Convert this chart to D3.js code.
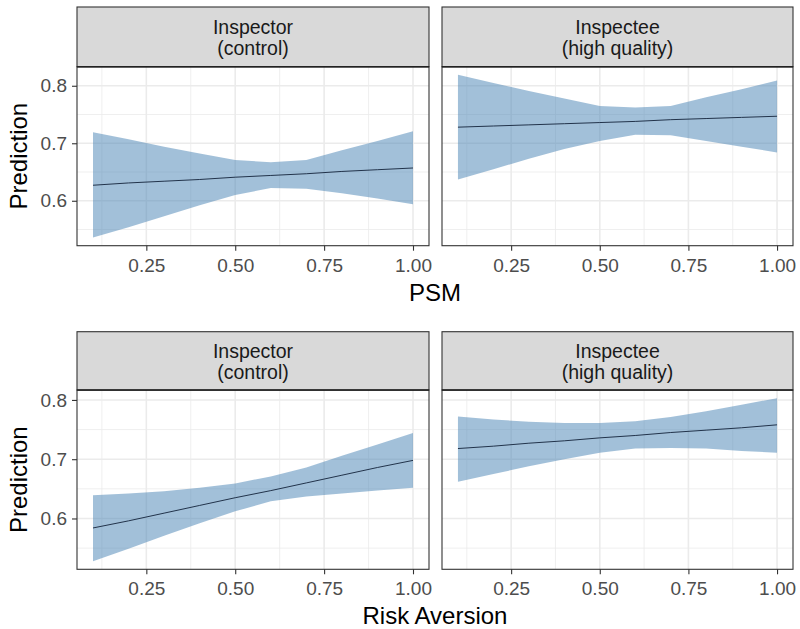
<!DOCTYPE html>
<html>
<head>
<meta charset="utf-8">
<script src="https://cdn.jsdelivr.net/npm/d3@7"></script>
<style>
  html, body { margin: 0; padding: 0; background: #fff; }
  svg { display: block; font-family: "Liberation Sans", Arial, Helvetica, sans-serif; }
</style>
</head>
<body>
<svg id="chart" width="800" height="629"></svg>
<script>
// ---------- DATA ----------
const xValues = [0.1, 0.2, 0.3, 0.4, 0.5, 0.6, 0.7, 0.8, 0.9, 1.0];
const facetLabels = [["Inspector", "(control)"], ["Inspectee", "(high quality)"]];
const rowTitles = ["PSM", "Risk Aversion"];
const yTitle = "Prediction";
const xTicks = [0.25, 0.50, 0.75, 1.00];
const yTicks = [0.6, 0.7, 0.8];

// PSM, Inspector (control)
const psmInspectorFit  = [0.627, 0.631, 0.634, 0.637, 0.641, 0.644, 0.647, 0.651, 0.654, 0.657];
const psmInspectorLow  = [0.536, 0.554, 0.573, 0.592, 0.610, 0.622, 0.621, 0.613, 0.604, 0.594];
const psmInspectorHigh = [0.719, 0.707, 0.694, 0.682, 0.671, 0.667, 0.671, 0.688, 0.704, 0.721];
// PSM, Inspectee (high quality)
const psmInspecteeFit  = [0.728, 0.730, 0.732, 0.734, 0.736, 0.738, 0.741, 0.743, 0.745, 0.747];
const psmInspecteeLow  = [0.637, 0.655, 0.673, 0.690, 0.704, 0.715, 0.714, 0.704, 0.694, 0.684];
const psmInspecteeHigh = [0.819, 0.805, 0.791, 0.778, 0.765, 0.762, 0.765, 0.780, 0.794, 0.809];
// Risk Aversion, Inspector (control)
const raInspectorFit  = [0.584, 0.596, 0.609, 0.622, 0.635, 0.647, 0.660, 0.673, 0.686, 0.698];
const raInspectorLow  = [0.528, 0.549, 0.571, 0.592, 0.612, 0.629, 0.637, 0.642, 0.647, 0.652];
const raInspectorHigh = [0.639, 0.642, 0.646, 0.652, 0.659, 0.671, 0.686, 0.706, 0.725, 0.744];
// Risk Aversion, Inspectee (high quality)
const raInspecteeFit  = [0.718, 0.722, 0.727, 0.731, 0.736, 0.740, 0.745, 0.749, 0.753, 0.758];
const raInspecteeLow  = [0.662, 0.675, 0.688, 0.700, 0.711, 0.718, 0.719, 0.718, 0.714, 0.711];
const raInspecteeHigh = [0.772, 0.767, 0.763, 0.761, 0.761, 0.764, 0.771, 0.781, 0.792, 0.803];

const rowsData = [
  [ {fit: psmInspectorFit, low: psmInspectorLow, high: psmInspectorHigh},
    {fit: psmInspecteeFit, low: psmInspecteeLow, high: psmInspecteeHigh} ],
  [ {fit: raInspectorFit, low: raInspectorLow, high: raInspectorHigh},
    {fit: raInspecteeFit, low: raInspecteeLow, high: raInspecteeHigh} ]
];

// ---------- LAYOUT ----------
const rowLayout = [
  {stripTop: 7, panelTop: 66.7, panelBottom: 245.7},
  {stripTop: 331.7, panelTop: 390, panelBottom: 569.3}
];
const colLayout = [ {left: 77, right: 429}, {left: 442, right: 793} ];

const svg = d3.select("#chart");
const tickFont = 19, stripFont = 19.5, titleFont = 24;

function expand(lo, hi, m) { const r = hi - lo; return [lo - r * m, hi + r * m]; }

rowsData.forEach((row, ri) => {
  const L = rowLayout[ri];
  const allLow = d3.min(row, d => d3.min(d.low));
  const allHigh = d3.max(row, d => d3.max(d.high));
  const yDom = expand(allLow, allHigh, 0.05);
  const xDom = expand(d3.min(xValues), d3.max(xValues), 0.05);

  row.forEach((d, ci) => {
    const C = colLayout[ci];
    const x = d3.scaleLinear().domain(xDom).range([C.left, C.right]);
    const y = d3.scaleLinear().domain(yDom).range([L.panelBottom, L.panelTop]);
    const g = svg.append("g");

    g.append("rect").attr("x", C.left).attr("y", L.panelTop)
      .attr("width", C.right - C.left).attr("height", L.panelBottom - L.panelTop)
      .attr("fill", "#fff");

    const xMinor = xTicks.map(t => t - 0.125);
    const yMinor = yTicks.map(t => t - 0.05);
    g.selectAll(".xm").data(xMinor).join("line")
      .attr("x1", v => x(v)).attr("x2", v => x(v))
      .attr("y1", L.panelTop).attr("y2", L.panelBottom)
      .attr("stroke", "#ebebeb").attr("stroke-width", 0.8);
    g.selectAll(".ym").data(yMinor).join("line")
      .attr("y1", v => y(v)).attr("y2", v => y(v))
      .attr("x1", C.left).attr("x2", C.right)
      .attr("stroke", "#ebebeb").attr("stroke-width", 0.8);
    g.selectAll(".xM").data(xTicks).join("line")
      .attr("x1", v => x(v)).attr("x2", v => x(v))
      .attr("y1", L.panelTop).attr("y2", L.panelBottom)
      .attr("stroke", "#ebebeb").attr("stroke-width", 1.6);
    g.selectAll(".yM").data(yTicks).join("line")
      .attr("y1", v => y(v)).attr("y2", v => y(v))
      .attr("x1", C.left).attr("x2", C.right)
      .attr("stroke", "#ebebeb").attr("stroke-width", 1.6);

    const pts = xValues.map((xv, i) => ({x: xv, fit: d.fit[i], low: d.low[i], high: d.high[i]}));
    const area = d3.area().x(p => x(p.x)).y0(p => y(p.low)).y1(p => y(p.high));
    g.append("path").datum(pts).attr("d", area)
      .attr("fill", "#4682b4").attr("fill-opacity", 0.5);
    const line = d3.line().x(p => x(p.x)).y(p => y(p.fit));
    g.append("path").datum(pts).attr("d", line)
      .attr("fill", "none").attr("stroke", "#13233a").attr("stroke-width", 0.9);

    g.append("rect").attr("x", C.left).attr("y", L.panelTop)
      .attr("width", C.right - C.left).attr("height", L.panelBottom - L.panelTop)
      .attr("fill", "none").attr("stroke", "#333").attr("stroke-width", 1.1);

    g.append("rect").attr("x", C.left).attr("y", L.stripTop)
      .attr("width", C.right - C.left).attr("height", L.panelTop - L.stripTop)
      .attr("fill", "#d9d9d9").attr("stroke", "#333").attr("stroke-width", 1.1);
    g.append("line").attr("x1", C.left).attr("x2", C.right)
      .attr("y1", L.panelTop).attr("y2", L.panelTop)
      .attr("stroke", "#222").attr("stroke-width", 1.6);
    const cx = (C.left + C.right) / 2;
    facetLabels[ci].forEach((t, k) => {
      g.append("text").attr("x", cx).attr("y", L.stripTop + 26.5 + k * 21)
        .attr("text-anchor", "middle").attr("font-size", stripFont)
        .attr("fill", "#1a1a1a").text(t);
    });

    const xa = g.append("g").attr("transform", `translate(0,${L.panelBottom})`)
      .call(d3.axisBottom(x).tickValues(xTicks).tickFormat(d3.format(".2f"))
        .tickSize(5).tickPadding(7.5));
    xa.select(".domain").remove();
    xa.selectAll("line").attr("stroke", "#333").attr("stroke-width", 1.1);
    xa.selectAll("text").attr("font-size", tickFont).attr("fill", "#4d4d4d")
      .attr("font-family", "Liberation Sans, Arial, sans-serif");

    if (ci === 0) {
      const ya = g.append("g").attr("transform", `translate(${C.left},0)`)
        .call(d3.axisLeft(y).tickValues(yTicks).tickFormat(d3.format(".1f"))
          .tickSize(5).tickPadding(5));
      ya.select(".domain").remove();
      ya.selectAll("line").attr("stroke", "#333").attr("stroke-width", 1.1);
      ya.selectAll("text").attr("font-size", tickFont).attr("fill", "#4d4d4d")
        .attr("font-family", "Liberation Sans, Arial, sans-serif");
    }
  });

  const midX = (colLayout[0].left + colLayout[1].right) / 2;
  svg.append("text").attr("x", midX).attr("y", L.panelBottom + 55)
    .attr("text-anchor", "middle").attr("font-size", titleFont).attr("fill", "#000")
    .text(rowTitles[ri]);
  const midY = (L.panelTop + L.panelBottom) / 2;
  svg.append("text").attr("transform", `translate(26.5,${midY}) rotate(-90)`)
    .attr("text-anchor", "middle").attr("font-size", titleFont).attr("fill", "#000")
    .text(yTitle);
});
</script>
</body>
</html>
